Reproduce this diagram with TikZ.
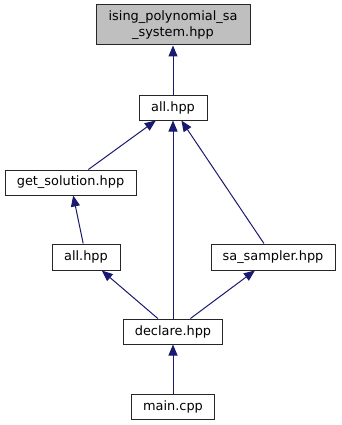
\documentclass[tikz,border=0pt]{standalone}
\usepackage{fontspec}
\setmainfont{DejaVu Sans}
\usetikzlibrary{arrows.meta}

\definecolor{edgeblue}{HTML}{191970}
\definecolor{boxgray}{HTML}{BFBFBF}

\begin{document}
\begin{tikzpicture}[x=1pt,y=-1pt,
    file/.style={draw=black!85,line width=1pt,inner sep=0pt,align=center,
      font=\fontsize{12.9}{15.5}\selectfont},
    dep/.style={draw=edgeblue,line width=1pt,
      -{Triangle[length=11pt,width=9pt]}}]
    \useasboundingbox (0,0) rectangle (341,425);

    % files
    \node[file,fill=boxgray,minimum width=154pt,minimum height=40pt]
      (sys) at (173,25) {ising\_polynomial\_sa\\\_system.hpp};
    \node[file,minimum width=68pt,minimum height=24pt] (all) at (173,108) {all.hpp};
    \node[file,minimum width=131pt,minimum height=25pt] (getsol) at (70.5,182.5) {get\_solution.hpp};
    \node[file,minimum width=68pt,minimum height=26pt] (allsub) at (86,257) {all.hpp};
    \node[file,minimum width=124pt,minimum height=26pt] (sampler) at (273,257) {sa\_sampler.hpp};
    \node[file,minimum width=99pt,minimum height=25pt] (declare) at (173,331.5) {declare.hpp};
    \node[file,minimum width=83pt,minimum height=25pt] (main) at (173,406.5) {main.cpp};

    % includes
    \draw[dep] (all) -- (sys);
    \draw[dep] (getsol) -- (all);
    \draw[dep] (declare) -- (all);
    \draw[dep] (sampler) -- (all);
    \draw[dep] (allsub) -- (getsol);
    \draw[dep] (declare) -- (allsub);
    \draw[dep] (declare) -- (sampler);
    \draw[dep] (main) -- (declare);
\end{tikzpicture}
\end{document}
